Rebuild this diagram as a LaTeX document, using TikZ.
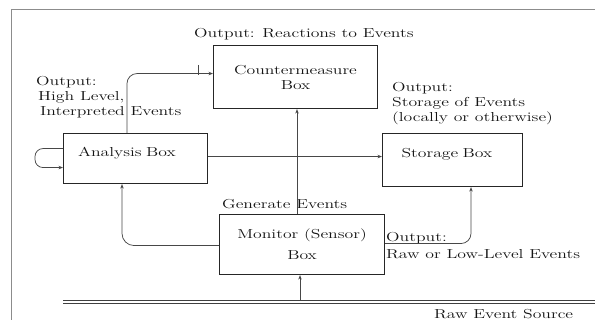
\documentclass[tikz,border=0pt]{standalone}
\usepackage{fontspec}
\setmainfont{Latin Modern Roman}[FakeStretch=1.36]
\usetikzlibrary{arrows.meta,calc}

\begin{document}
\begin{tikzpicture}[x=1pt,y=-1pt,
  every node/.style={font=\fontsize{13}{15}\selectfont, text=black!92, inner sep=0pt},
  box/.style={draw=black!85, line width=1.1pt, align=center, anchor=north west},
  conn/.style={draw=black!72, line width=0.75pt, -{Stealth[length=4.5pt,width=3.5pt]}},
  plain/.style={draw=black!72, line width=0.75pt},
  frameline/.style={draw=black!45, line width=0.9pt},
  lbl/.style={anchor=base west, align=left}
]
\useasboundingbox (0,0) rectangle (595,320);

% open frame (left and top edges)
\coordinate (fbl) at (11,320);
\coordinate (ftl) at (11,9);
\coordinate (ftr) at (595,9);
\draw[frameline] (fbl) -- (ftl) -- (ftr);

% the four boxes
\node[box, minimum width=144pt, minimum height=50pt, text height=9pt, text depth=13pt,
      text width=115pt, align=left]
  (ana) at (63,133) {Analysis Box};
\node[box, minimum width=164pt, minimum height=63pt]
  (cm) at (213,45) {Countermeasure\\Box};
\node[box, minimum width=140pt, minimum height=53pt, text height=9pt, text depth=14pt,
      text width=102pt, align=left]
  (sto) at (382,133) {Storage Box};
\node[box, minimum width=165pt, minimum height=60pt]
  (mon) at (219,214) {Monitor (Sensor)\\[6pt]Box};

% raw event source (double rule)
\coordinate (srcL) at (63,302);
\coordinate (srcR) at (595,302);
\draw[draw=black!75, line width=0.8pt, double=white, double distance=2.6pt] (srcL) -- (srcR);

% labels (multi-line labels are placed by their last baseline)
\node[lbl] (outR) at (194,38) {Output: Reactions to Events};
\node[lbl] (outH) at (36,116) {Output:\\\hspace{2pt}High Level,\\\hspace{4pt}Interpreted Events};
\node[lbl] (outS) at (392,122) {Output:\\Storage of Events\\(locally or otherwise)};
\node[lbl] (gen) at (222,209) {Generate Events};
\node[lbl] (outL) at (386,259) {Output:\\[2.5pt]Raw or Low-Level Events};
\node[lbl] (src) at (434,319) {Raw Event Source};

% connectors
\coordinate (anaUp) at ($(ana.north west)+(64,0)$);
\coordinate (cmIn) at ([yshift=3.5pt]cm.west);
\draw[conn, rounded corners=10pt] (anaUp) |- (cmIn);
\coordinate (tickT) at (198,65);
\coordinate (tickB) at (198,75);
\draw[plain] (tickT) -- (tickB);

\draw[conn, rounded corners=8pt] ([yshift=10pt]ana.west) -- ++(-28,0) -- ++(0,19) -- ([yshift=-9pt]ana.west);

\draw[conn] ([yshift=2pt]ana.east) -- ([yshift=2pt]ana.east -| sto.west);

\coordinate (monUp) at ($(mon.north west)+(78,0)$);
\draw[conn] (monUp) -- (monUp |- cm.south);

\coordinate (srcUp) at (300,300);
\draw[conn] (srcUp) -- (srcUp |- mon.south);

\coordinate (anaIn) at ($(ana.south west)+(59,0)$);
\draw[conn, rounded corners=12pt] ([yshift=-1pt]mon.west) -| (anaIn);

\coordinate (stoIn) at ($(sto.south west)+(89,0)$);
\draw[conn, rounded corners=10pt] ([yshift=1pt]mon.east) -| (stoIn);
\end{tikzpicture}
\end{document}
